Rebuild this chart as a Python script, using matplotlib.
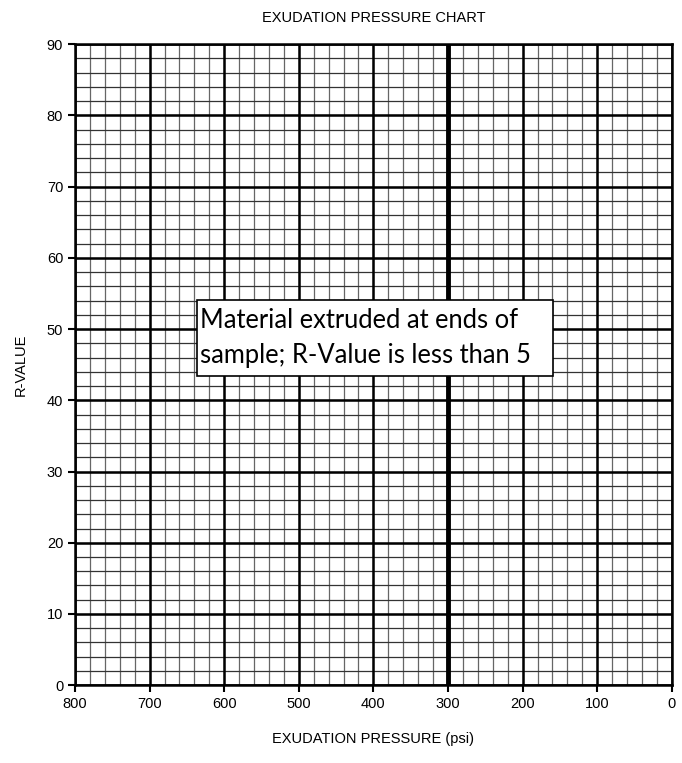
import matplotlib
matplotlib.use("Agg")
import matplotlib.pyplot as plt
from matplotlib.patches import Rectangle
import numpy as np

# axis ranges / ticks
x_ticks = [800, 700, 600, 500, 400, 300, 200, 100, 0]
y_ticks = [0, 10, 20, 30, 40, 50, 60, 70, 80, 90]
x_minor = np.arange(0, 801, 20)
y_minor = np.arange(0, 91, 2)
note = "Material extruded at ends of\nsample; R-Value is less than 5"

plt.rcParams['font.family'] = ['Liberation Sans', 'DejaVu Sans']

fig = plt.figure(figsize=(6.82, 7.63), dpi=100)
ax = fig.add_axes([0.110, 0.102, 0.875, 0.840])

ax.set_xlim(800, 0)
ax.set_ylim(0, 90)

# minor grid
for xv in x_minor:
    ax.axvline(xv, color='#666666', lw=0.9, zorder=1)
for yv in y_minor:
    ax.axhline(yv, color='#333333', lw=0.9, zorder=1)
# major grid
for xv in x_ticks:
    ax.axvline(xv, color='black', lw=1.8 if xv != 300 else 3.5, zorder=2)
for yv in y_ticks:
    ax.axhline(yv, color='black', lw=1.8, zorder=2)

ax.set_xticks(x_ticks)
ax.set_yticks(y_ticks)
ax.tick_params(labelsize=10.5, length=5, width=1.5, direction='out')
for s in ax.spines.values():
    s.set_linewidth(1.8)

ax.set_title("EXUDATION PRESSURE CHART", fontsize=10.5, pad=16)
ax.set_ylabel("R-VALUE", fontsize=10.5, labelpad=14)
ax.set_xlabel("EXUDATION PRESSURE (psi)", fontsize=10.5, labelpad=15)

# note box
ax.add_patch(Rectangle((636, 43.4), -477, 10.7, fc='white', ec='black',
                       lw=1.2, zorder=5))
ax.text(632, 48.8, note, fontsize=18.4, family=['Lato', 'DejaVu Sans'],
        ha='left', va='center', linespacing=1.5, zorder=6)

fig.savefig("out.png", dpi=100)
